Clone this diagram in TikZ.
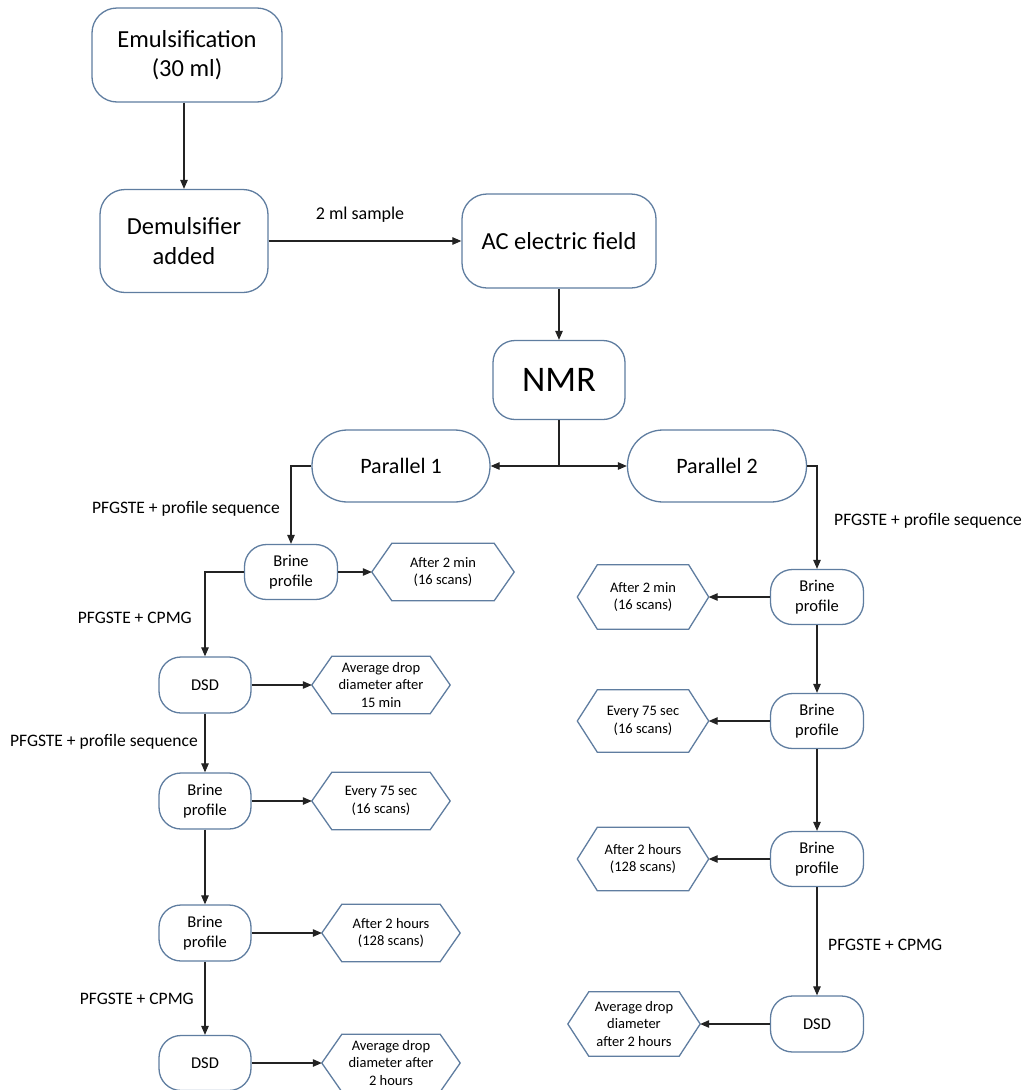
\documentclass[tikz,border=0pt]{standalone}
\usepackage{fontspec}
\setmainfont{Carlito}
\usetikzlibrary{arrows.meta}
\definecolor{boxline}{RGB}{95,125,160}
\definecolor{arrline}{RGB}{35,35,35}
\newcommand\hexframe[2]{\draw[hexline] (#1.west) -- ([xshift=#2]#1.north west) -- ([xshift=-#2]#1.north east) -- (#1.east) -- ([xshift=-#2]#1.south east) -- ([xshift=#2]#1.south west) -- cycle;}
\tikzset{
  box/.style={draw=boxline, line width=1.3pt, rounded corners=#1, inner sep=0pt, align=center, text=black, fill=white},
  box/.default=22pt,
  sz/.style n args={2}{minimum width=#1, minimum height=#2},
  bigtxt/.style={font=\fontsize{24.5}{29.5}\selectfont},
  midtxt/.style={font=\fontsize{16.5}{20}\selectfont},
  hextxt/.style={font=\fontsize{14.5}{17.7}\selectfont, inner sep=0pt, align=center, text=black},
  hexline/.style={draw=boxline, line width=1.3pt, line join=miter},
  lbl/.style={font=\fontsize{17.5}{21}\selectfont, inner sep=0pt, text=black},
  arr/.style={draw=arrline, line width=1.1pt, -{Triangle[length=9pt,width=7.5pt]}},
  ln/.style={draw=arrline, line width=1.1pt},
}
\begin{document}
\begin{tikzpicture}[x=1pt,y=-1pt]
\useasboundingbox (0,0) rectangle (1024,1090);
% top chain
\node[box=25pt, sz={190}{94}, bigtxt] (emul) at (187,55) {Emulsification\\(30 ml)};
\node[box=25pt, sz={168}{103}, bigtxt] (demul) at (184,241) {Demulsifier\\added};
\node[box=25pt, sz={194}{94}, bigtxt] (ac) at (559,241) {AC electric field};
\node[box=22pt, sz={132}{79}, font=\fontsize{36}{40}\selectfont] (nmr) at (559,380) {NMR};
\node[box=35.5pt, sz={178}{72}, font=\fontsize{22}{26}\selectfont] (par1) at (401,466) {Parallel 1};
\node[box=35.5pt, sz={179}{72}, font=\fontsize{22}{26}\selectfont] (par2) at (717,466) {Parallel 2};
\coordinate (split) at (559,466);

\draw[arr] (demul.north |- emul.south) -- (demul.north);
\draw[arr] (demul.east) -- (ac.west);
\node[lbl, font=\fontsize{18}{21}\selectfont] (smp) at (360,215) {2 ml sample};
\draw[arr] (ac.south) -- (nmr.north);
\draw[ln] (nmr.south) -- (split);
\draw[arr] (split) -- (par1.east);
\draw[arr] (split) -- (par2.west);

% left column
\node[box, sz={93}{55}, midtxt] (bl1) at (291,572) {Brine\\profile};
\node[box, sz={92}{56}, midtxt] (dl1) at (205,685) {DSD};
\node[box, sz={92}{56}, midtxt] (bl2) at (205,801) {Brine\\profile};
\node[box, sz={92}{56}, midtxt] (bl3) at (205,933) {Brine\\profile};
\node[box, sz={92}{55}, midtxt] (dl2) at (205,1063) {DSD};

\node[hextxt, sz={142}{57}] (hl1) at (443,572) {After 2 min\\(16 scans)};
\node[hextxt, sz={138}{57}] (hl2) at (381,685) {Average drop\\diameter after\\15 min};
\node[hextxt, sz={138}{57}] (hl3) at (381,801) {Every 75 sec\\(16 scans)};
\node[hextxt, sz={138}{57}] (hl4) at (391,933) {After 2 hours\\(128 scans)};
\node[hextxt, sz={138}{57}] (hl5) at (391,1063) {Average drop\\diameter after\\2 hours};
\hexframe{hl1}{20pt}
\hexframe{hl2}{20pt}
\hexframe{hl3}{20pt}
\hexframe{hl4}{20pt}
\hexframe{hl5}{20pt}

\draw[arr] (par1.west) -| (bl1.north);
\draw[arr] (bl1.west) -| (dl1.north);
\draw[arr] (dl1.south) -- (bl2.north);
\draw[arr] (bl2.south) -- (bl3.north);
\draw[arr] (bl3.south) -- (dl2.north);
\draw[arr] (bl1.east) -- (hl1.west);
\draw[arr] (dl1.east) -- (hl2.west);
\draw[arr] (bl2.east) -- (hl3.west);
\draw[arr] (bl3.east) -- (hl4.west);
\draw[arr] (dl2.east) -- (hl5.west);

\node[lbl, anchor=east] (lab1) at (280,509) {PFGSTE + profile sequence};
\node[lbl, anchor=east] (lab2) at (192,618) {PFGSTE + CPMG};
\node[lbl, anchor=east] (lab3) at (198,742) {PFGSTE + profile sequence};
\node[lbl, anchor=east] (lab4) at (194,999) {PFGSTE + CPMG};

% right column
\node[box, sz={93}{55}, midtxt] (br1) at (817,597) {Brine\\profile};
\node[box, sz={93}{55}, midtxt] (br2) at (817,721) {Brine\\profile};
\node[box, sz={93}{55}, midtxt] (br3) at (817,859) {Brine\\profile};
\node[box, sz={93}{56}, midtxt] (dr) at (817,1024) {DSD};

\node[hextxt, sz={131}{64}] (hr1) at (643,597) {After 2 min\\(16 scans)};
\node[hextxt, sz={131}{62}] (hr2) at (643,721) {Every 75 sec\\(16 scans)};
\node[hextxt, sz={131}{63}] (hr3) at (643,859) {After 2 hours\\(128 scans)};
\node[hextxt, sz={132}{64}] (hr4) at (634,1024) {Average drop\\diameter\\after 2 hours};
\hexframe{hr1}{20pt}
\hexframe{hr2}{20pt}
\hexframe{hr3}{20pt}
\hexframe{hr4}{21pt}

\draw[arr] (par2.east) -| (br1.north);
\draw[arr] (br1.south) -- (br2.north);
\draw[arr] (br2.south) -- (br3.north);
\draw[arr] (br3.south) -- (dr.north);
\draw[arr] (br1.west) -- (hr1.east);
\draw[arr] (br2.west) -- (hr2.east);
\draw[arr] (br3.west) -- (hr3.east);
\draw[arr] (dr.west) -- (hr4.east);

\node[lbl, anchor=west] (lab5) at (834,521) {PFGSTE + profile sequence};
\node[lbl, anchor=west] (lab6) at (828,945) {PFGSTE + CPMG};
\end{tikzpicture}
\end{document}
